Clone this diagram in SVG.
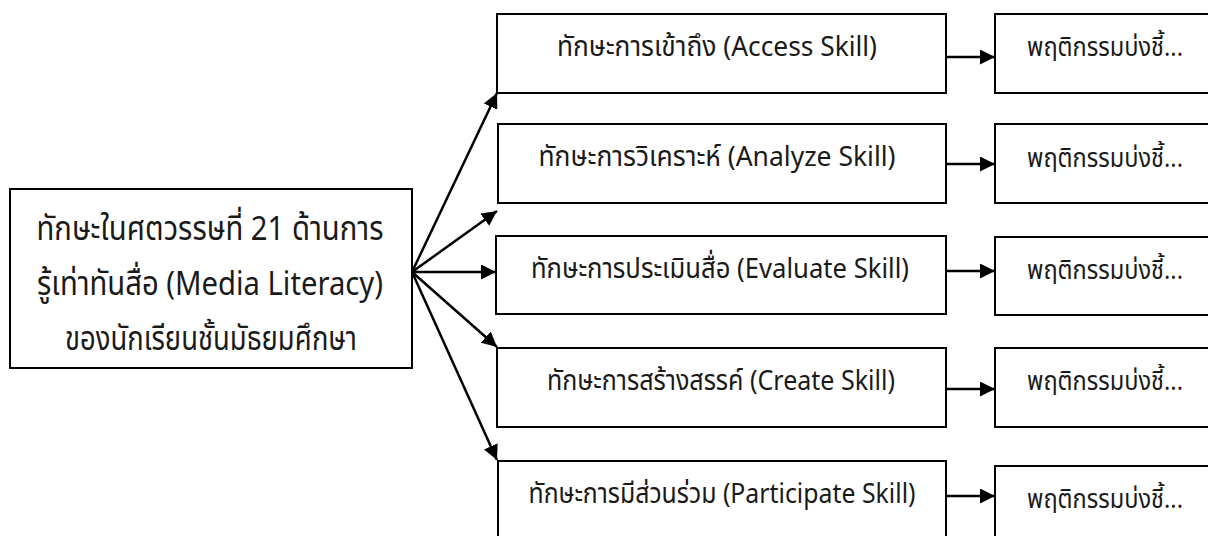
<svg xmlns="http://www.w3.org/2000/svg" width="1208" height="537" viewBox="0 0 1208 537">
<style>
.box{fill:#fff;stroke:#000;stroke-width:2}
.open{fill:#fff;stroke:#000;stroke-width:2}
.t{font-family:"Noto Sans Thai","Noto Sans Thai UI","Leelawadee UI","Noto Sans","DejaVu Sans",sans-serif;fill:#1a1a1a;text-anchor:middle}
.m{font-size:33px}
.s{font-size:28px}
.r{font-size:26px}
.con{stroke:#000;stroke-width:2.5;fill:none}
</style>
<defs>
<marker id="ah" markerUnits="userSpaceOnUse" markerWidth="15" markerHeight="15" refX="15" refY="7.5" orient="auto">
<path d="M0,0 L15,7.5 L0,15 Z" fill="#000"/>
</marker>
</defs>
<rect width="1208" height="537" fill="#fff"/>
<g id="connectors">
<line class="con" x1="412" y1="272" x2="497" y2="93" marker-end="url(#ah)"/>
<line class="con" x1="412" y1="272" x2="497" y2="211" marker-end="url(#ah)"/>
<line class="con" x1="412" y1="272" x2="496" y2="272" marker-end="url(#ah)"/>
<line class="con" x1="412" y1="272" x2="497" y2="347" marker-end="url(#ah)"/>
<line class="con" x1="412" y1="272" x2="497" y2="460" marker-end="url(#ah)"/>
<line class="con" x1="946" y1="57" x2="995" y2="57" marker-end="url(#ah)"/>
<line class="con" x1="946" y1="164" x2="995" y2="164" marker-end="url(#ah)"/>
<line class="con" x1="946" y1="271" x2="995" y2="271" marker-end="url(#ah)"/>
<line class="con" x1="946" y1="389" x2="995" y2="389" marker-end="url(#ah)"/>
<line class="con" x1="946" y1="496" x2="995" y2="496" marker-end="url(#ah)"/>
</g>
<g id="center">
<rect class="box" x="10" y="189" width="402" height="179"/>
<text class="t m" x="210" y="240" textLength="347" lengthAdjust="spacingAndGlyphs">ทักษะในศตวรรษที่ 21 ด้านการ</text>
<text class="t m" x="210" y="295" textLength="346" lengthAdjust="spacingAndGlyphs">รู้เท่าทันสื่อ (Media Literacy)</text>
<text class="t m" x="211" y="350" textLength="292" lengthAdjust="spacingAndGlyphs">ของนักเรียนชั้นมัธยมศึกษา</text>
</g>
<g id="skill1">
<rect class="box" x="497" y="14" width="449" height="79"/>
<text class="t s" x="717" y="56" textLength="320" lengthAdjust="spacingAndGlyphs">ทักษะการเข้าถึง (Access Skill)</text>
</g>
<g id="skill2">
<rect class="box" x="498" y="124" width="448" height="79"/>
<text class="t s" x="717" y="166" textLength="357" lengthAdjust="spacingAndGlyphs">ทักษะการวิเคราะห์ (Analyze Skill)</text>
</g>
<g id="skill3">
<rect class="box" x="496" y="236" width="450" height="78"/>
<text class="t s" x="720" y="278" textLength="378" lengthAdjust="spacingAndGlyphs">ทักษะการประเมินสื่อ (Evaluate Skill)</text>
</g>
<g id="skill4">
<rect class="box" x="497" y="348" width="449" height="79"/>
<text class="t s" x="721" y="390" textLength="348" lengthAdjust="spacingAndGlyphs">ทักษะการสร้างสรรค์ (Create Skill)</text>
</g>
<g id="skill5">
<path class="open" d="M946,536 V461 H498 V536"/>
<text class="t s" x="722" y="503" textLength="387" lengthAdjust="spacingAndGlyphs">ทักษะการมีส่วนร่วม (Participate Skill)</text>
</g>
<g id="ind1">
<path class="open" d="M1208,14 H995 V93 H1208"/>
<text class="t r" x="1105" y="56" textLength="156" lengthAdjust="spacingAndGlyphs">พฤติกรรมบ่งชี้...</text>
</g>
<g id="ind2">
<path class="open" d="M1208,124 H995 V203 H1208"/>
<text class="t r" x="1105" y="167" textLength="156" lengthAdjust="spacingAndGlyphs">พฤติกรรมบ่งชี้...</text>
</g>
<g id="ind3">
<path class="open" d="M1208,237 H995 V315 H1208"/>
<text class="t r" x="1105" y="279" textLength="156" lengthAdjust="spacingAndGlyphs">พฤติกรรมบ่งชี้...</text>
</g>
<g id="ind4">
<path class="open" d="M1208,348 H995 V427 H1208"/>
<text class="t r" x="1105" y="390" textLength="156" lengthAdjust="spacingAndGlyphs">พฤติกรรมบ่งชี้...</text>
</g>
<g id="ind5">
<path class="open" d="M1208,466 H995 V536"/>
<text class="t r" x="1105" y="508" textLength="156" lengthAdjust="spacingAndGlyphs">พฤติกรรมบ่งชี้...</text>
</g>
</svg>
